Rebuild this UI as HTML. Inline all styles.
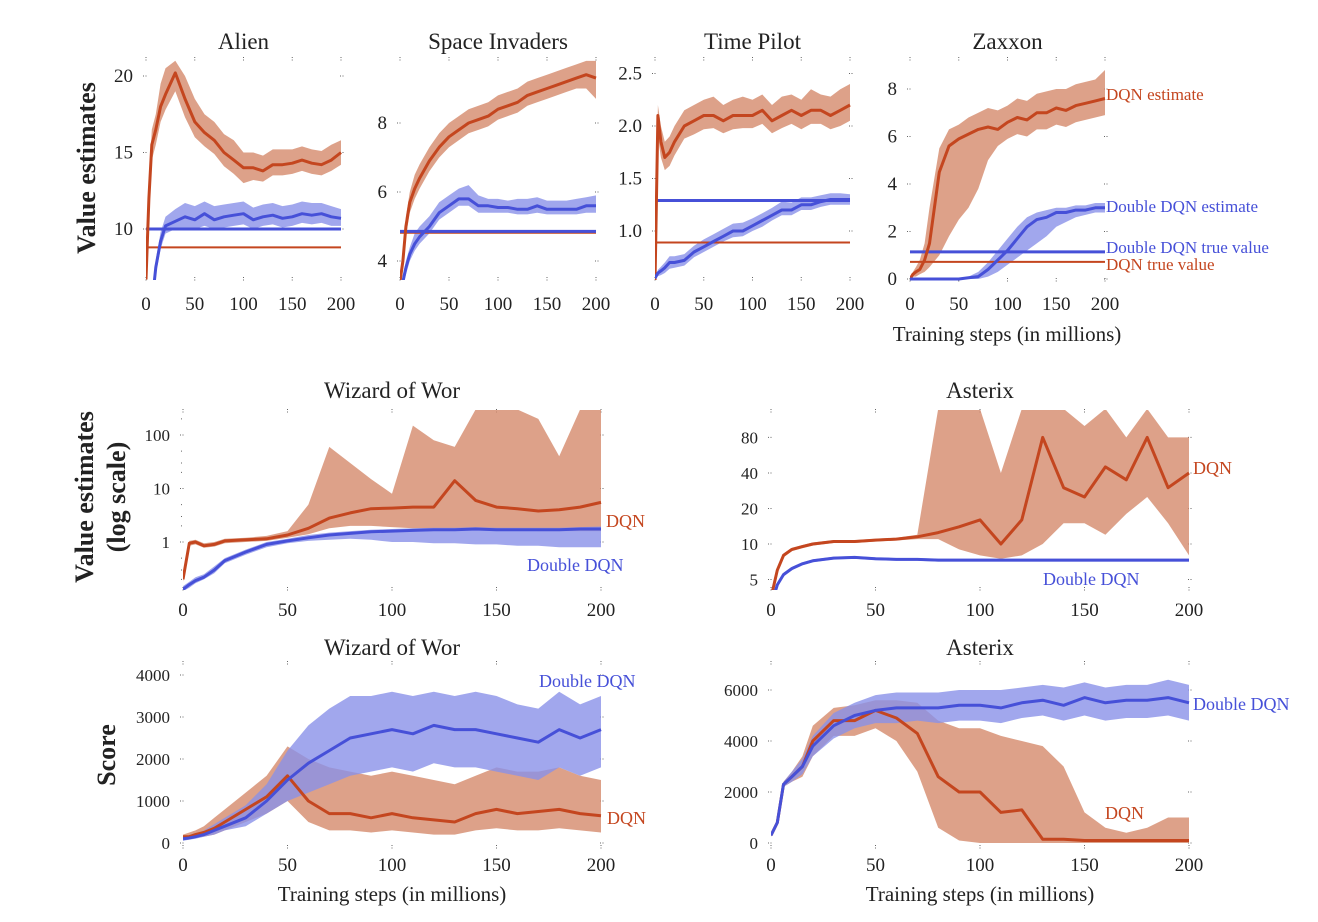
<!DOCTYPE html>
<html><head><meta charset="utf-8">
<style>
html,body{margin:0;padding:0;background:#fff;}
svg{display:block;font-family:"Liberation Serif","DejaVu Serif",serif;}
</style></head>
<body>
<svg id="fig" width="1318" height="922" viewBox="0 0 1318 922" xmlns="http://www.w3.org/2000/svg">
<defs id="defs"></defs>
<text transform="translate(95,168) rotate(-90)" text-anchor="middle" font-size="26" font-weight="bold" fill="#222">Value estimates</text>
<text transform="translate(93,497) rotate(-90)" text-anchor="middle" font-size="26" font-weight="bold" fill="#222">Value estimates</text>
<text transform="translate(125,497) rotate(-90)" text-anchor="middle" font-size="26" font-weight="bold" fill="#222">(log scale)</text>
<text transform="translate(115,755) rotate(-90)" text-anchor="middle" font-size="26" font-weight="bold" fill="#222">Score</text>
<text x="1007" y="341" text-anchor="middle" font-size="21" fill="#222">Training steps (in millions)</text>
<text x="392" y="901" text-anchor="middle" font-size="21" fill="#222">Training steps (in millions)</text>
<text x="980" y="901" text-anchor="middle" font-size="21" fill="#222">Training steps (in millions)</text>
</svg>
<script>
const steps=[0,3,6,10,15,20,30,40,50,60,70,80,90,100,110,120,130,140,150,160,170,180,190,200];
// Alien
const aDqn=[6.7,12,15.5,16.5,18,18.8,20.2,18.5,17,16.3,15.8,15,14.5,14,14,13.8,14.2,14.2,14.3,14.5,14.3,14.2,14.5,15];
const aDqnLo=[6.7,11,14.5,15.5,17,17.8,19,17.3,16,15.4,14.9,14.1,13.6,13,13.2,13.1,13.5,13.5,13.6,13.8,13.6,13.5,13.8,14.2];
const aDqnHi=[6.7,13,16.5,17.5,19.5,20.5,21,20,18.5,17.5,17,16.2,15.8,15,15,14.8,15.2,15.2,15.2,15.4,15.2,15.1,15.5,15.8];
const aDd=[5,5,5,7.5,9.2,10.2,10.5,10.8,10.6,11,10.6,10.8,10.9,11,10.6,10.8,10.9,10.7,10.8,11,10.9,11,10.8,10.7];
const aDdLo=[5,5,5,7,8.7,9.7,10,10.1,10,10.2,10,10.1,10.2,10.3,10,10.2,10.3,10.1,10.2,10.4,10.3,10.4,10.2,10.2];
const aDdHi=[5,5,5,8,9.8,10.8,11.3,11.7,11.5,11.8,11.5,11.6,11.7,11.8,11.4,11.6,11.7,11.5,11.6,11.8,11.7,11.7,11.5,11.3];
const aTrue=[8.8,10.0];
// Space Invaders
const sDqn=[3.4,4,5,5.7,6.1,6.4,6.9,7.3,7.6,7.8,8.0,8.1,8.2,8.4,8.5,8.6,8.8,8.9,9.0,9.1,9.2,9.3,9.4,9.3];
const sDqnLo=[3.4,3.8,4.7,5.4,5.8,6.1,6.6,7.0,7.3,7.5,7.7,7.8,7.9,8.1,8.2,8.3,8.5,8.6,8.7,8.8,8.9,9.0,9.0,8.7];
const sDqnHi=[3.4,4.2,5.3,6,6.5,6.8,7.3,7.7,8,8.2,8.4,8.5,8.6,8.8,8.9,9.0,9.2,9.3,9.4,9.5,9.6,9.7,9.8,9.8];
const sDd=[3,3.4,3.8,4.2,4.5,4.7,5.0,5.4,5.6,5.8,5.8,5.6,5.6,5.55,5.55,5.5,5.5,5.6,5.5,5.5,5.5,5.5,5.6,5.6];
const sDdLo=[3,3.2,3.6,4.0,4.3,4.5,4.8,5.2,5.4,5.6,5.6,5.4,5.4,5.4,5.4,5.35,5.35,5.4,5.35,5.35,5.35,5.35,5.4,5.4];
const sDdHi=[3,3.6,4.0,4.4,4.8,5.0,5.3,5.7,5.9,6.1,6.2,5.9,5.8,5.8,5.75,5.8,5.8,5.85,5.75,5.75,5.75,5.8,5.85,5.9];
const sTrue=[4.82,4.86];
// Time Pilot
const tDqn=[0.5,2.1,1.85,1.7,1.75,1.85,2.0,2.05,2.1,2.1,2.05,2.1,2.1,2.1,2.15,2.05,2.1,2.15,2.1,2.15,2.15,2.1,2.15,2.2];
const tDqnLo=[0.5,1.9,1.7,1.58,1.62,1.72,1.88,1.92,1.97,1.98,1.93,1.97,1.98,1.98,2.02,1.93,1.98,2.02,1.97,2.02,2.02,1.97,2.0,2.05];
const tDqnHi=[0.5,2.2,2.0,1.85,1.9,2.0,2.15,2.2,2.25,2.28,2.2,2.25,2.28,2.25,2.3,2.2,2.28,2.3,2.25,2.35,2.3,2.28,2.35,2.4];
const tDd=[0.55,0.6,0.62,0.65,0.7,0.7,0.72,0.8,0.85,0.9,0.95,1.0,1.0,1.05,1.1,1.15,1.2,1.2,1.25,1.25,1.28,1.3,1.3,1.3];
const tDdLo=[0.55,0.57,0.58,0.6,0.64,0.65,0.67,0.75,0.8,0.85,0.9,0.94,0.95,1.0,1.04,1.1,1.15,1.15,1.2,1.2,1.23,1.25,1.25,1.25];
const tDdHi=[0.55,0.63,0.66,0.7,0.76,0.76,0.78,0.86,0.92,0.97,1.02,1.07,1.08,1.12,1.17,1.22,1.28,1.27,1.32,1.32,1.34,1.36,1.36,1.35];
const tTrue=[0.89,1.29];
// Zaxxon
const zDqn=[0,0.2,0.3,0.4,0.8,1.5,4.5,5.6,5.9,6.1,6.3,6.4,6.3,6.6,6.8,6.7,7.0,7.0,7.2,7.1,7.3,7.4,7.5,7.6];
const zDqnLo=[0,0.1,0.1,0.2,0.3,0.5,1.0,1.8,2.5,3.0,3.8,5.0,5.6,5.9,6.1,6.0,6.3,6.3,6.5,6.4,6.6,6.7,6.8,6.9];
const zDqnHi=[0,0.3,0.5,0.8,1.5,3.0,5.5,6.3,6.5,6.8,7.0,7.2,7.1,7.3,7.6,7.5,7.8,7.9,8.0,8.0,8.2,8.3,8.4,8.8];
const zDd=[0,0,0,0,0,0,0,0,0,0.05,0.1,0.4,0.8,1.2,1.7,2.2,2.5,2.6,2.8,2.8,2.9,2.9,3.0,3.0];
const zDdLo=[0,0,0,0,0,0,0,0,0,0,0,0.1,0.3,0.6,0.9,1.2,1.5,1.8,2.2,2.4,2.6,2.7,2.8,2.8];
const zDdHi=[0,0,0,0,0,0,0,0,0,0.1,0.3,0.7,1.2,1.7,2.2,2.6,2.8,2.9,3.0,3.0,3.1,3.1,3.2,3.2];
const zTrue=[0.72,1.14];
// Wizard of Wor value (log)
const wDqn=[0.2,0.95,1.0,0.85,0.9,1.05,1.1,1.15,1.35,1.8,2.8,3.5,4.2,4.3,4.5,4.5,14,6,4.5,4.2,3.8,4,4.5,5.5];
const wDqnLo=[0.18,0.85,0.9,0.78,0.82,0.95,1.0,1.05,1.2,1.4,1.8,2.0,2.0,1.9,1.8,1.8,1.8,1.8,1.7,1.7,1.6,1.6,1.6,1.6];
const wDqnHi=[0.22,1.05,1.1,0.95,1.0,1.15,1.2,1.3,1.6,5,60,30,15,8,150,80,60,300,300,300,200,40,300,300];
const wDd=[0.13,0.16,0.19,0.22,0.3,0.45,0.65,0.9,1.05,1.2,1.35,1.45,1.55,1.6,1.65,1.7,1.7,1.75,1.7,1.7,1.7,1.7,1.75,1.75];
const wDdLo=[0.12,0.14,0.17,0.2,0.26,0.4,0.58,0.8,0.95,1.05,1.1,1.15,1.1,1.0,1.0,0.95,0.95,0.9,0.9,0.85,0.85,0.8,0.8,0.8];
const wDdHi=[0.15,0.18,0.22,0.25,0.35,0.5,0.72,1.0,1.15,1.35,1.5,1.6,1.7,1.75,1.8,1.85,1.85,1.9,1.85,1.85,1.85,1.85,1.9,1.95];
// Asterix value (log)
const xDqn=[3.5,6,8,9,9.5,10,10.5,10.5,10.8,11,11.5,12.5,14,16,10,16,80,30,25,45,35,80,30,40];
const xDqnLo=[3.4,5.8,7.7,8.7,9.2,9.7,10.2,10.2,10.5,10.7,11,11,9,8,7.5,8,10,15,15,12,18,25,15,8];
const xDqnHi=[3.6,6.2,8.3,9.3,9.8,10.3,10.8,10.8,11.1,11.3,12,140,140,140,40,140,140,140,100,140,80,140,80,80];
const xDd=[3,4.5,5.5,6.2,6.8,7.2,7.6,7.7,7.5,7.4,7.4,7.3,7.3,7.3,7.3,7.3,7.3,7.3,7.3,7.3,7.3,7.3,7.3,7.3];
const xDdLo=[2.9,4.3,5.3,6.0,6.6,7.0,7.4,7.5,7.3,7.2,7.2,7.1,7.1,7.1,7.1,7.1,7.1,7.1,7.1,7.1,7.1,7.1,7.1,7.1];
const xDdHi=[3.1,4.7,5.7,6.4,7.0,7.4,7.8,7.9,7.7,7.6,7.6,7.5,7.5,7.5,7.5,7.5,7.5,7.5,7.5,7.5,7.5,7.5,7.5,7.5];
// Wizard of Wor score
const wsDqn=[150,150,200,250,350,500,800,1100,1600,1000,700,700,600,700,600,550,500,700,800,700,750,800,700,650];
const wsDqnLo=[100,100,120,150,200,300,500,700,1000,500,300,300,250,300,250,200,200,300,350,300,300,350,300,250];
const wsDqnHi=[200,250,300,400,600,800,1200,1600,2300,2000,1800,1700,1600,1700,1600,1500,1400,1600,1800,1700,1700,1800,1600,1500];
const wsDd=[100,120,150,200,300,400,600,1000,1500,1900,2200,2500,2600,2700,2600,2800,2700,2700,2600,2500,2400,2700,2500,2700];
const wsDdLo=[50,80,100,150,200,300,400,700,1000,1200,1400,1600,1700,1800,1700,1900,1800,1800,1700,1600,1500,1800,1600,1800];
const wsDdHi=[150,180,220,300,450,600,900,1400,2200,2800,3200,3500,3500,3600,3500,3600,3500,3600,3500,3300,3200,3600,3300,3500];
// Asterix score
const asDqn=[300,800,2300,2600,3000,4000,4800,4800,5200,4900,4300,2600,2000,2000,1200,1300,150,150,100,100,100,100,100,100];
const asDqnLo=[250,700,2200,2400,2600,3400,4200,4200,4500,4000,2800,600,100,0,0,0,0,0,0,0,0,0,0,0];
const asDqnHi=[350,900,2400,2800,3400,4600,5300,5400,5600,5600,5500,4800,4500,4500,4200,4000,3800,3000,1200,600,400,600,1000,1000];
const asDd=[300,800,2300,2600,3000,3800,4600,5000,5200,5300,5300,5300,5400,5400,5300,5500,5600,5400,5700,5500,5600,5600,5700,5500];
const asDdLo=[250,700,2200,2400,2700,3400,4100,4500,4700,4700,4800,4700,4800,4800,4700,4900,5000,4800,5000,4800,4900,4900,5000,4800];
const asDdHi=[350,900,2400,2800,3300,4200,5100,5500,5800,5900,5900,5900,6000,6000,6000,6100,6200,6100,6300,6100,6200,6200,6400,6200];
const xTicks=[0,50,100,150,200];

const NS='http://www.w3.org/2000/svg';
const svg=document.getElementById('fig');
const defs=document.getElementById('defs');
const RED='#c4461f',BLUE='#4650d8',RBAND='#d48a6c',BBAND='#8a91e8';
function mk(tag,attrs,parent){const e=document.createElementNS(NS,tag);for(const k in attrs)e.setAttribute(k,attrs[k]);(parent||svg).appendChild(e);return e;}
function lin(v0,p0,k){return v=>p0-(v-v0)*k;}
function logs(p1,k){return v=>p1-Math.log10(Math.max(v,1e-6))*k;}

function panel(o){
  const g=mk('g',{});
  
  
  const sx=v=>o.x0+(v/200)*(o.x1-o.x0);
  const sy=o.sy;
  const cid='clip-'+o.name;
  const cp=mk('clipPath',{id:cid},defs);
  mk('rect',{x:o.x0,y:o.yTop,width:o.x1-o.x0+2,height:o.yBot-o.yTop},cp);
  // ticks
  const tk=mk('g',{stroke:'#666','stroke-width':1,'stroke-dasharray':'1,1.5'},g);
  
  
  xTicks.forEach(t=>{const x=sx(t);mk('line',{x1:x,x2:x,y1:o.yBot-3,y2:o.yBot+1},tk);mk('line',{x1:x,x2:x,y1:o.yTop-1,y2:o.yTop+3},tk);
    const tl=mk('text',{x:x,y:o.xLabY,'text-anchor':'middle','font-size':19,fill:'#222',stroke:'none','stroke-dasharray':'none'},g);tl.textContent=t;
    
    });
  o.yt.forEach((t,i)=>{const y=sy(t);mk('line',{x1:o.x0-3,x2:o.x0+1,y1:y,y2:y},tk);mk('line',{x1:o.x1-1,x2:o.x1+3,y1:y,y2:y},tk);
    const tl=mk('text',{x:o.x0-13,y:y+6,'text-anchor':'end','font-size':o.yfs||19,fill:'#222'},g);tl.textContent=o.ytl?o.ytl[i]:t;
    
    });
  if(o.minor){o.minor.forEach(t=>{const y=sy(t);mk('line',{x1:o.x0-2,x2:o.x0,y1:y,y2:y},tk);});}
  const pg=mk('g',{'clip-path':'url(#'+cid+')'},g);
  function band(lo,hi,col,op,nm){
    let d='M';steps.forEach((s,i)=>{d+=sx(s).toFixed(1)+','+sy(hi[i]).toFixed(1)+' L';});
    for(let i=steps.length-1;i>=0;i--){d+=sx(steps[i]).toFixed(1)+','+sy(lo[i]).toFixed(1)+(i?' L':' Z');}
    const p=mk('path',{d:d,fill:col,'fill-opacity':op,stroke:'none'},pg);
    
    
  }
  function line(m,col,w,nm){
    const p=mk('polyline',{points:steps.map((s,i)=>sx(s).toFixed(1)+','+sy(m[i]).toFixed(1)).join(' '),fill:'none',stroke:col,'stroke-width':w,'stroke-linejoin':'round'},pg);
    
    
  }
  band(o.dqnLo,o.dqnHi,RBAND,0.8,'dqn-band');
  band(o.ddLo,o.ddHi,BBAND,0.8,'double-dqn-band');
  if(o.tru){
    const l1=mk('line',{x1:o.x0,x2:o.x1,y1:sy(o.tru[0]),y2:sy(o.tru[0]),stroke:RED,'stroke-width':2},pg);
    
    
    const l2=mk('line',{x1:o.x0,x2:o.x1,y1:sy(o.tru[1]),y2:sy(o.tru[1]),stroke:BLUE,'stroke-width':3},pg);
    
    
  }
  if(o.redFirst){line(o.dd,BLUE,3,'double-dqn-line');line(o.dqn,RED,3,'dqn-line');}
  else{line(o.dqn,RED,3,'dqn-line');line(o.dd,BLUE,3,'double-dqn-line');}
  const ti=mk('text',{x:(o.x0+o.x1)/2,y:o.titleY,'text-anchor':'middle','font-size':23,fill:'#222'},g);ti.textContent=o.title;
  
  
  (o.labels||[]).forEach(L=>{const t=mk('text',{x:L[0],y:L[1],'font-size':L[4]||18,fill:L[3]},g);t.textContent=L[2];
    
    });
}
panel({name:'alien-panel',title:'Alien',x0:146,x1:341,yTop:58,yBot:280,titleY:49,xLabY:310,sy:lin(10,229,15.3),yt:[10,15,20],
  dqn:aDqn,dqnLo:aDqnLo,dqnHi:aDqnHi,dd:aDd,ddLo:aDdLo,ddHi:aDdHi,tru:aTrue});
panel({name:'space-invaders-panel',title:'Space Invaders',x0:400,x1:596,yTop:58,yBot:280,titleY:49,xLabY:310,sy:lin(6,192,34.5),yt:[4,6,8],
  dqn:sDqn,dqnLo:sDqnLo,dqnHi:sDqnHi,dd:sDd,ddLo:sDdLo,ddHi:sDdHi,tru:sTrue});
panel({name:'time-pilot-panel',title:'Time Pilot',x0:655,x1:850,yTop:58,yBot:280,titleY:49,xLabY:310,sy:lin(2,126,105),yt:[1,1.5,2,2.5],ytl:['1.0','1.5','2.0','2.5'],
  dqn:tDqn,dqnLo:tDqnLo,dqnHi:tDqnHi,dd:tDd,ddLo:tDdLo,ddHi:tDdHi,tru:tTrue});
panel({name:'zaxxon-panel',title:'Zaxxon',x0:910,x1:1105,yTop:58,yBot:281,titleY:49,xLabY:310,sy:lin(0,279,23.75),yt:[0,2,4,6,8],
  dqn:zDqn,dqnLo:zDqnLo,dqnHi:zDqnHi,dd:zDd,ddLo:zDdLo,ddHi:zDdHi,tru:zTrue,
  labels:[[1106,100,'DQN estimate',RED,17],[1106,212,'Double DQN estimate',BLUE,17],[1106,253,'Double DQN true value',BLUE,17],[1106,270,'DQN true value',RED,17]]});
panel({name:'wizard-value-panel',title:'Wizard of Wor',x0:183,x1:601,yTop:410,yBot:590,titleY:398,xLabY:616,sy:logs(542,53.5),yt:[1,10,100],yfs:17,
  minor:[0.2,0.3,0.5,2,3,5,20,30,50,200],
  dqn:wDqn,dqnLo:wDqnLo,dqnHi:wDqnHi,dd:wDd,ddLo:wDdLo,ddHi:wDdHi,
  labels:[[606,527,'DQN',RED],[527,571,'Double DQN',BLUE]]});
panel({name:'asterix-value-panel',title:'Asterix',x0:771,x1:1189,yTop:410,yBot:590,titleY:398,xLabY:616,sy:v=>544-Math.log10(v/10)*118,yt:[5,10,20,40,80],yfs:17,
  dqn:xDqn,dqnLo:xDqnLo,dqnHi:xDqnHi,dd:xDd,ddLo:xDdLo,ddHi:xDdHi,
  labels:[[1193,474,'DQN',RED],[1043,585,'Double DQN',BLUE]]});
panel({name:'wizard-score-panel',title:'Wizard of Wor',x0:183,x1:601,yTop:662,yBot:848,titleY:655,xLabY:871,sy:lin(0,843,0.042),yt:[0,1000,2000,3000,4000],yfs:17,
  dqn:wsDqn,dqnLo:wsDqnLo,dqnHi:wsDqnHi,dd:wsDd,ddLo:wsDdLo,ddHi:wsDdHi,
  labels:[[539,687,'Double DQN',BLUE],[607,824,'DQN',RED]]});
panel({name:'asterix-score-panel',title:'Asterix',x0:771,x1:1189,yTop:662,yBot:848,titleY:655,xLabY:871,sy:lin(0,843,0.0255),yt:[0,2000,4000,6000],yfs:17,redFirst:false,
  dqn:asDqn,dqnLo:asDqnLo,dqnHi:asDqnHi,dd:asDd,ddLo:asDdLo,ddHi:asDdHi,
  labels:[[1193,710,'Double DQN',BLUE],[1105,819,'DQN',RED]]});
</script>
</body></html>
